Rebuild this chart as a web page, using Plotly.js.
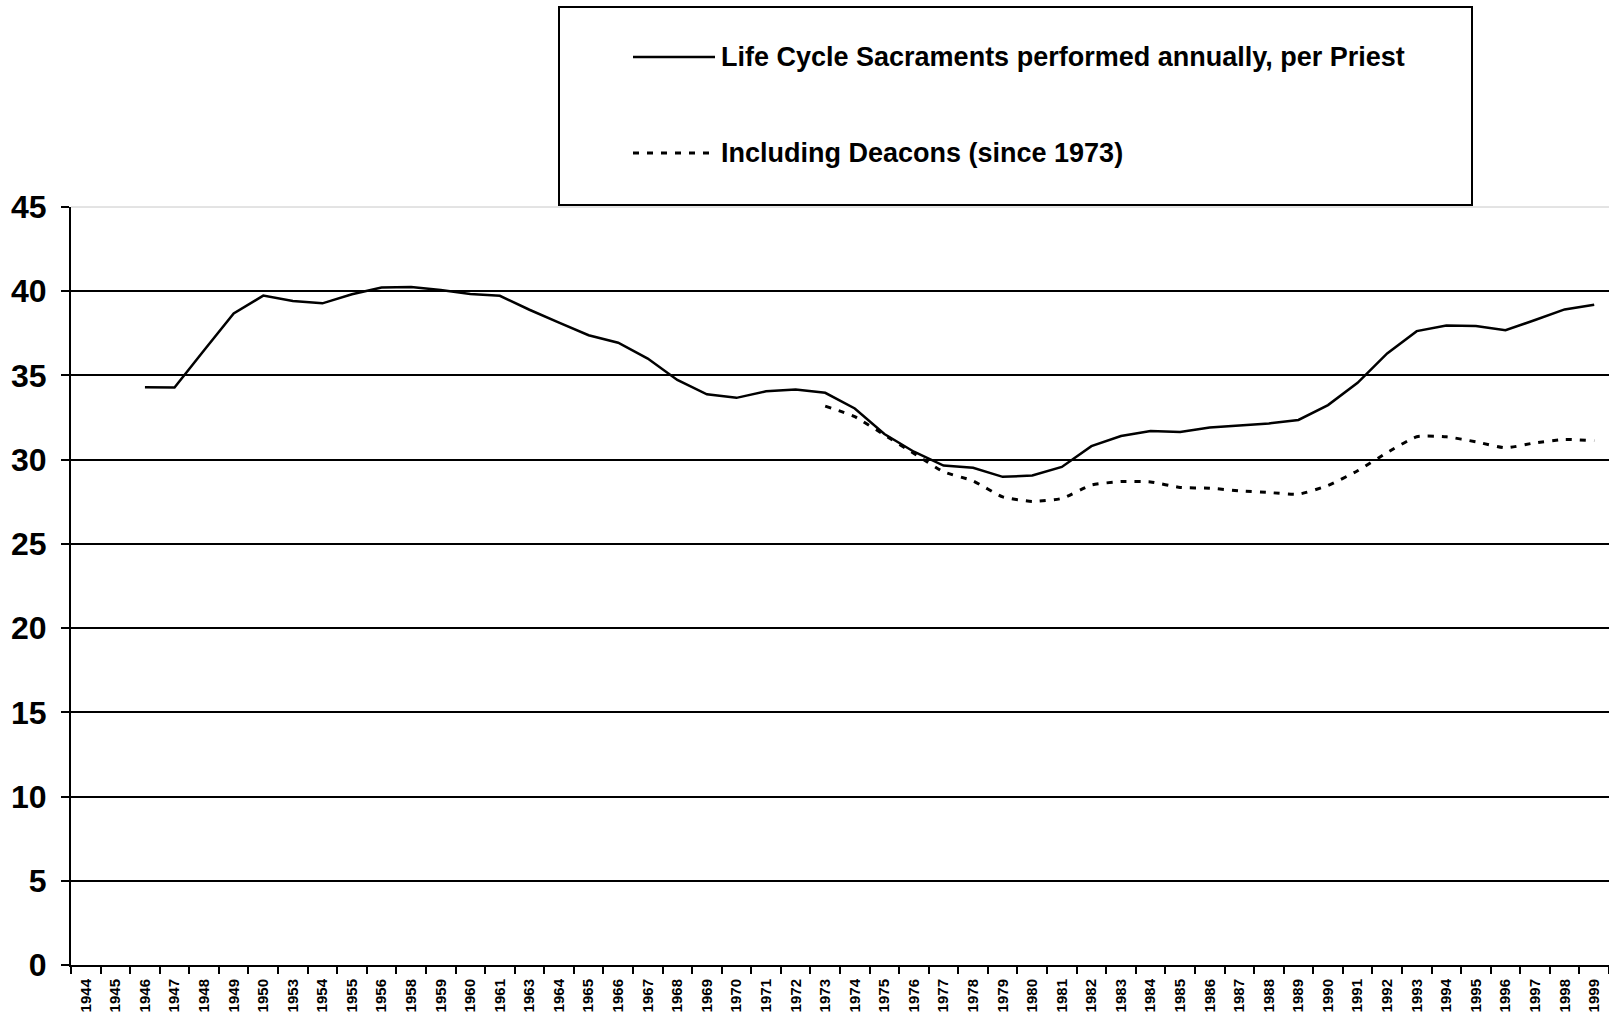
<!DOCTYPE html>
<html>
<head>
<meta charset="utf-8">
<script src="https://cdn.plot.ly/plotly-3.0.1.min.js"></script>
<style>
html,body{margin:0;padding:0;background:#fff;}
#chart{width:1609px;height:1014px;}
</style>
</head>
<body>
<div id="chart"></div>
<script>
const years = ['1944','1945','1946','1947','1948','1949','1950','1953','1954','1955','1956','1958','1959','1960','1961','1963','1964','1965','1966','1967','1968','1969','1970','1971','1972','1973','1974','1975','1976','1977','1978','1979','1980','1981','1982','1983','1984','1985','1986','1987','1988','1989','1990','1991','1992','1993','1994','1995','1996','1997','1998','1999'];

const perPriest = [null,null,34.30,34.28,36.50,38.68,39.74,39.42,39.28,39.82,40.22,40.25,40.07,39.84,39.73,38.90,38.14,37.39,36.94,36.00,34.73,33.88,33.67,34.06,34.17,33.97,33.04,31.52,30.47,29.65,29.52,28.98,29.06,29.57,30.80,31.40,31.70,31.64,31.91,32.05,32.15,32.36,33.24,34.56,36.31,37.63,37.97,37.93,37.69,38.29,38.92,39.20];

const inclDeacons = [null,null,null,null,null,null,null,null,null,null,null,null,null,null,null,null,null,null,null,null,null,null,null,null,null,33.18,32.55,31.47,30.37,29.28,28.74,27.79,27.52,27.70,28.49,28.70,28.68,28.35,28.31,28.15,28.05,27.95,28.47,29.34,30.42,31.36,31.36,31.06,30.70,31.00,31.20,31.12];

const seriesNames = ['Life Cycle Sacraments performed annually, per Priest','Including Deacons (since 1973)'];
const yTicks = [0,5,10,15,20,25,30,35,40,45];

const FONT = 'Liberation Sans, Arial, sans-serif';

const traces = [
  {x: years, y: perPriest, name: seriesNames[0], type: 'scatter', mode: 'lines',
   line: {color: '#000', width: 2.5}, connectgaps: false, showlegend: false},
  {x: years, y: inclDeacons, name: seriesNames[1], type: 'scatter', mode: 'lines',
   line: {color: '#000', width: 3, dash: '6px,8px', shape: 'spline', smoothing: 0.5}, connectgaps: false, showlegend: false}
];

const L = 71, T = 207, W = 1609 - 71, H = 758;
function px(xp){return (xp - L) / W;}
function py(yp){return (T + H - yp) / H;}

const layout = {
  width: 1609, height: 1014,
  margin: {l: L, r: 0, t: T, b: 1014 - T - H, pad: 0},
  paper_bgcolor: '#fff', plot_bgcolor: '#fff',
  font: {family: FONT, color: '#000'},
  showlegend: false,
  xaxis: {
    type: 'category', categoryorder: 'array', categoryarray: years,
    range: [-0.5, years.length - 0.5],
    tickson: 'boundaries', ticks: 'outside', ticklen: 7, tickwidth: 2, tickcolor: '#000',
    showline: true, linecolor: '#000', linewidth: 2, showgrid: false, zeroline: false,
    tickangle: -90, tickfont: {family: FONT, size: 15, color: '#000', weight: 'bold'},
    ticklabelstandoff: 6,
    fixedrange: true
  },
  yaxis: {
    range: [0, 45], tickmode: 'array', tickvals: yTicks, ticktext: yTicks.map(String),
    ticks: 'outside', ticklen: 8, tickwidth: 2, tickcolor: '#000',
    showline: true, linecolor: '#000', linewidth: 2,
    showgrid: true, gridcolor: '#000', gridwidth: 2, zeroline: false,
    tickfont: {family: FONT, size: 32, color: '#000', weight: 'bold'},
    ticklabelstandoff: 8,
    fixedrange: true
  },
  shapes: [
    {type: 'line', xref: 'paper', yref: 'paper', x0: 0, x1: 1, y0: 1, y1: 1, layer: 'above',
     line: {color: '#fff', width: 3}},
    {type: 'line', xref: 'paper', yref: 'paper', x0: 0, x1: 1, y0: 1, y1: 1, layer: 'above',
     line: {color: '#c8c8c8', width: 1}},
    {type: 'rect', xref: 'paper', yref: 'paper', x0: px(559), x1: px(1472), y0: py(205), y1: py(7),
     fillcolor: '#fff', line: {color: '#000', width: 2}, layer: 'above'},
    {type: 'line', xref: 'paper', yref: 'paper', x0: px(633), x1: px(715), y0: py(57), y1: py(57),
     line: {color: '#000', width: 2.5}, layer: 'above'},
    {type: 'line', xref: 'paper', yref: 'paper', x0: px(633), x1: px(715), y0: py(153), y1: py(153),
     line: {color: '#000', width: 3, dash: '6px,8px'}, layer: 'above'}
  ],
  annotations: [
    {xref: 'paper', yref: 'paper', x: px(719), y: py(57), xanchor: 'left', yanchor: 'middle',
     text: '<b>' + seriesNames[0] + '</b>', showarrow: false,
     font: {family: FONT, size: 27, color: '#000'}},
    {xref: 'paper', yref: 'paper', x: px(719), y: py(153), xanchor: 'left', yanchor: 'middle',
     text: '<b>' + seriesNames[1] + '</b>', showarrow: false,
     font: {family: FONT, size: 27, color: '#000'}}
  ]
};

Plotly.newPlot('chart', traces, layout, {displayModeBar: false, staticPlot: true});
</script>
</body>
</html>
